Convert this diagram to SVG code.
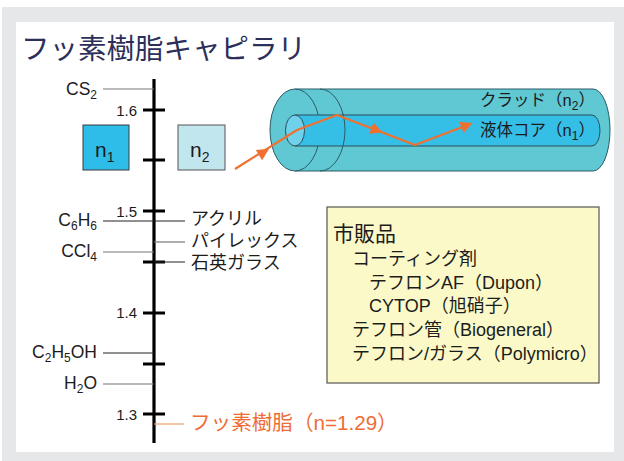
<svg xmlns="http://www.w3.org/2000/svg" width="624" height="461" viewBox="0 0 624 461">
  <defs>
    <style>
      .t { font-family: "Liberation Sans", "Noto Sans CJK JP", sans-serif; fill: #1c1c1c; }
      .title { font-family: "Noto Sans CJK JP", "Liberation Sans", sans-serif; font-size: 28.5px; fill: #2c2f5a; }
      .tick { stroke: #000; stroke-width: 3; }
      .axis { stroke: #000; stroke-width: 3.2; }
      .lead { stroke: #222; stroke-width: 1; }
      .leadg { stroke: #777; stroke-width: 1.2; }
      .num { font-size: 15px; }
      .chem { font-size: 17.5px; }
      .mat { font-size: 18px; }
      .box { font-size: 18px; }
      .ray { fill: none; stroke: #f07030; stroke-width: 2.2; stroke-linejoin: round; }
    </style>
    <marker id="arrB" viewBox="0 0 10 10" refX="5" refY="5" markerWidth="14" markerHeight="12" orient="auto" markerUnits="userSpaceOnUse">
      <path d="M0,0 L10,5 L0,10 Z" fill="#f07030"/>
    </marker>
  </defs>

  <!-- frame -->
  <rect x="2" y="7" width="622" height="454" fill="#e6e7e9"/>
  <rect x="16" y="22" width="598" height="430" fill="#ffffff"/>

  <text class="title" x="21" y="59">フッ素樹脂キャピラリ</text>

  <!-- refractive index scale -->
  <g id="scale">
    <line class="axis" x1="154" y1="79" x2="154" y2="443"/>
    <line class="tick" x1="143" y1="110" x2="165" y2="110"/>
    <line class="tick" x1="143" y1="160" x2="165" y2="160"/>
    <line class="tick" x1="143" y1="211" x2="165" y2="211"/>
    <line class="tick" x1="143" y1="262" x2="165" y2="262"/>
    <line class="tick" x1="143" y1="313" x2="165" y2="313"/>
    <line class="tick" x1="143" y1="364" x2="165" y2="364"/>
    <line class="tick" x1="143" y1="414" x2="165" y2="414"/>
    <g class="t num" text-anchor="end">
      <text x="137" y="116">1.6</text>
      <text x="137" y="217">1.5</text>
      <text x="137" y="318">1.4</text>
      <text x="137" y="420">1.3</text>
    </g>
  </g>

  <!-- leader lines -->
  <g id="connectors">
    <line class="leadg" x1="103" y1="89" x2="154" y2="89"/>
    <line class="lead" x1="103" y1="221" x2="185" y2="221"/>
    <line class="leadg" x1="154" y1="242" x2="185" y2="242"/>
    <line class="leadg" x1="103" y1="252" x2="154" y2="252"/>
    <line class="lead" x1="154" y1="262" x2="185" y2="262"/>
    <line class="lead" x1="103" y1="353" x2="154" y2="353"/>
    <line class="leadg" x1="103" y1="384" x2="154" y2="384"/>
    <line x1="154" y1="424" x2="184" y2="424" stroke="#f0a070" stroke-width="1.2"/>
  </g>

  <!-- liquids (left) -->
  <g id="cs2"><text class="t chem" x="97" y="95" text-anchor="end">CS<tspan font-size="12" dy="4">2</tspan></text></g>
  <g id="c6h6"><text class="t chem" x="97" y="226" text-anchor="end">C<tspan font-size="12" dy="4">6</tspan><tspan dy="-4">H</tspan><tspan font-size="12" dy="4">6</tspan></text></g>
  <g id="ccl4"><text class="t chem" x="97" y="257" text-anchor="end">CCl<tspan font-size="12" dy="4">4</tspan></text></g>
  <g id="c2h5oh"><text class="t chem" x="97" y="358" text-anchor="end">C<tspan font-size="12" dy="4">2</tspan><tspan dy="-4">H</tspan><tspan font-size="12" dy="4">5</tspan><tspan dy="-4">OH</tspan></text></g>
  <g id="h2o"><text class="t chem" x="97" y="389" text-anchor="end">H<tspan font-size="12" dy="4">2</tspan><tspan dy="-4">O</tspan></text></g>

  <!-- solids (right) -->
  <g id="acryl"><text class="t mat" x="191" y="225">アクリル</text></g>
  <g id="pyrex"><text class="t mat" x="191" y="247">パイレックス</text></g>
  <g id="quartz"><text class="t mat" x="191" y="269">石英ガラス</text></g>
  <g id="fluororesin"><text class="t" x="190" y="430" font-size="20.6" style="fill:#ef6d35">フッ素樹脂（n=1.29）</text></g>

  <!-- index swatches -->
  <g id="n1">
    <rect x="83" y="125" width="46" height="45" fill="#2ebce8" stroke="#3a3a3a" stroke-width="1"/>
    <text class="t" x="95" y="157" font-size="21">n<tspan font-size="14" dy="5">1</tspan></text>
  </g>
  <g id="n2">
    <rect x="178" y="125" width="47" height="45" fill="#c2e6ee" stroke="#555" stroke-width="1"/>
    <text class="t" x="190" y="157" font-size="21">n<tspan font-size="14" dy="5">2</tspan></text>
  </g>

  <!-- capillary -->
  <g id="capillary">
    <path d="M295,89 H593 A17,41 0 0 1 593,171 H295 Z" fill="#5fc8d3" stroke="#2c5c66" stroke-width="1"/>
    <ellipse cx="295" cy="130" rx="25" ry="41" fill="#5fc8d3" stroke="#2c5c66" stroke-width="1"/>
    <path d="M295,115 H592 A8,15.5 0 0 1 592,146 H295 Z" fill="#36bfe6" stroke="#2c4c58" stroke-width="1"/>
    <path d="M320,89 A25,41 0 0 1 320,171" fill="none" stroke="#2c5c66" stroke-width="1"/>
    <ellipse cx="295" cy="130.5" rx="9.5" ry="15.5" fill="#6fd2ec" stroke="#2c4c58" stroke-width="1"/>
    <text class="t" x="480" y="106" font-size="16.5">クラッド（n<tspan font-size="12" dy="4">2</tspan><tspan dy="-4">）</tspan></text>
    <text class="t" x="480" y="136" font-size="16.5">液体コア（n<tspan font-size="12" dy="4">1</tspan><tspan dy="-4">）</tspan></text>
  </g>

  <!-- light ray -->
  <g id="ray">
    <path class="ray" d="M235,169 L297,130 L337,115 L415,145 L465,126"/>
    <path d="M254,158.3 L264,152" fill="none" stroke="none" marker-end="url(#arrB)"/>
    <path d="M364,125.4 L377,130.4" fill="none" stroke="none" marker-end="url(#arrB)"/>
    <path d="M458,128.8 L467,125.2" fill="none" stroke="none" marker-end="url(#arrB)"/>
  </g>

  <!-- commercial products -->
  <g id="products">
    <rect x="327" y="207" width="272" height="176" fill="#fbf9c8" stroke="#555" stroke-width="1.2"/>
    <text class="t" x="333" y="241" font-size="21">市販品</text>
    <text class="t box" x="352" y="265">コーティング剤</text>
    <text class="t box" x="369" y="289">テフロンAF（Dupon）</text>
    <text class="t box" x="369" y="312">CYTOP（旭硝子）</text>
    <text class="t box" x="352" y="336">テフロン管（Biogeneral）</text>
    <text class="t box" x="352" y="360">テフロン/ガラス（Polymicro）</text>
  </g>
</svg>
